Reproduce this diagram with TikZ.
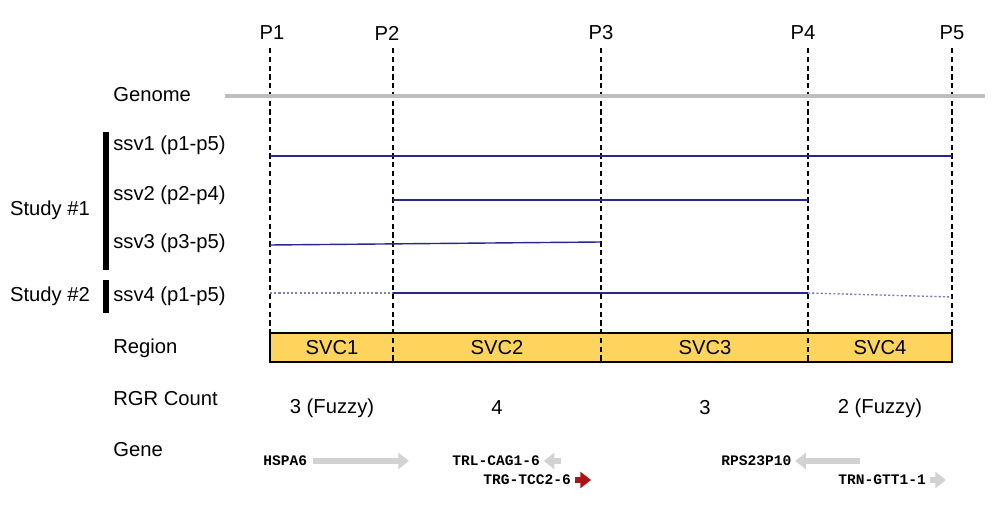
\documentclass[tikz,border=0pt]{standalone}
\usepackage{fontspec}
\setmainfont{Liberation Sans}
\newfontfamily\genefont{Liberation Mono}
\usetikzlibrary{arrows.meta, positioning}
\definecolor{ssvblue}{RGB}{40, 40, 140}
\definecolor{regiongold}{RGB}{255, 212, 92}
\definecolor{genomegrey}{RGB}{190, 190, 190}
\definecolor{genegrey}{RGB}{210, 210, 210}
\definecolor{genered}{RGB}{170, 20, 20}

\begin{document}
\begin{tikzpicture}[
  x=0.02cm, y=-0.02cm,
  lbl/.style={font=\fontsize{11.5}{13}\selectfont, inner sep=0pt},
  rowlbl/.style={lbl, anchor=west},
  pline/.style={black, line width=0.6pt, dash pattern=on 3pt off 2pt},
  ssv/.style={ssvblue, line width=0.8pt},
  ssvfuzzy/.style={ssvblue!60, line width=0.8pt, dash pattern=on 1.2pt off 1.2pt},
  studybar/.style={black, line width=3pt},
  gene/.style={font=\genefont\bfseries\fontsize{8.3}{10}\selectfont, inner sep=0pt},
  genearrow/.style={genegrey, line width=3pt, -{Triangle[length=6pt, width=9pt]}},
]
  \useasboundingbox (0,0) rectangle (1000,509);

  % Position markers
  \foreach \x/\lx/\n in {270/272/1, 393/387/2, 601/601/3, 808/803/4, 952/952/5} {
    \node[lbl] (p\n) at (\lx,33) {P\n};
    \coordinate (p\n t) at (\x,48);
    \coordinate (p\n b) at (\x,362);
  }

  % Region bar
  \draw[black, line width=0.6pt, fill=regiongold] (270,333) rectangle (952,362);
  \foreach \n in {1,...,5} {
    \draw[pline] (p\n t) -- (p\n b);
  }
  \foreach \x/\n in {332/1, 497/2, 705/3, 880/4} {
    \node[lbl] (svc\n) at (\x,348) {SVC\n};
  }

  % Row labels
  \node[rowlbl] (genome) at (113,95) {Genome};
  \node[rowlbl] (ssv1) at (113,145) {ssv1 (p1-p5)};
  \node[rowlbl] (ssv2) at (113,195) {ssv2 (p2-p4)};
  \node[rowlbl] (ssv3) at (113,243) {ssv3 (p3-p5)};
  \node[rowlbl] (ssv4) at (113,296) {ssv4 (p1-p5)};
  \node[rowlbl] (region) at (113,348) {Region};
  \node[rowlbl] (rgr) at (113,399) {RGR Count};
  \node[rowlbl] (gene) at (113,450) {Gene};

  % Studies
  \node[lbl] (study1) at (50,210) {Study \#1};
  \node[lbl] (study2) at (50,296) {Study \#2};
  \draw[studybar] (106,132) -- (106,270);
  \draw[studybar] (106,280) -- (106,313);

  % Genome
  \draw[genomegrey, line width=2.5pt] (225,96) -- (985,96);

  % Structural variants
  \draw[ssv] (270,156) -- (952,156);
  \draw[ssv] (393,200) -- (808,200);
  \draw[ssv] (270,245) -- (601,242);
  \draw[ssvfuzzy] (270,293) -- (393,293);
  \draw[ssv] (393,293) -- (808,293);
  \draw[ssvfuzzy] (808,293) -- (952,297);

  % RGR counts
  \node[lbl] (cnt1) at (332,408) {3 (Fuzzy)};
  \node[lbl] (cnt2) at (497,408) {4};
  \node[lbl] (cnt3) at (705,408) {3};
  \node[lbl] (cnt4) at (880,408) {2 (Fuzzy)};

  % Genes
  \node[gene, anchor=west] (hspa6) at (263,461) {HSPA6};
  \draw[genearrow] ([xshift=3pt]hspa6.east) -- (409,461);
  \node[gene, anchor=west] (trl) at (452,461) {TRL-CAG1-6};
  \draw[genearrow] (561,461) -- ([xshift=2pt]trl.east);
  \node[gene, anchor=west] (trg) at (483,480) {TRG-TCC2-6};
  \draw[genearrow, genered] ([xshift=2pt]trg.east) -- (591,480);
  \node[gene, anchor=west] (rps) at (721,461) {RPS23P10};
  \draw[genearrow] (860,461) -- ([xshift=2pt]rps.east);
  \node[gene, anchor=west] (trn) at (838,480) {TRN-GTT1-1};
  \draw[genearrow] ([xshift=2pt]trn.east) -- (946,480);

\end{tikzpicture}
\end{document}
